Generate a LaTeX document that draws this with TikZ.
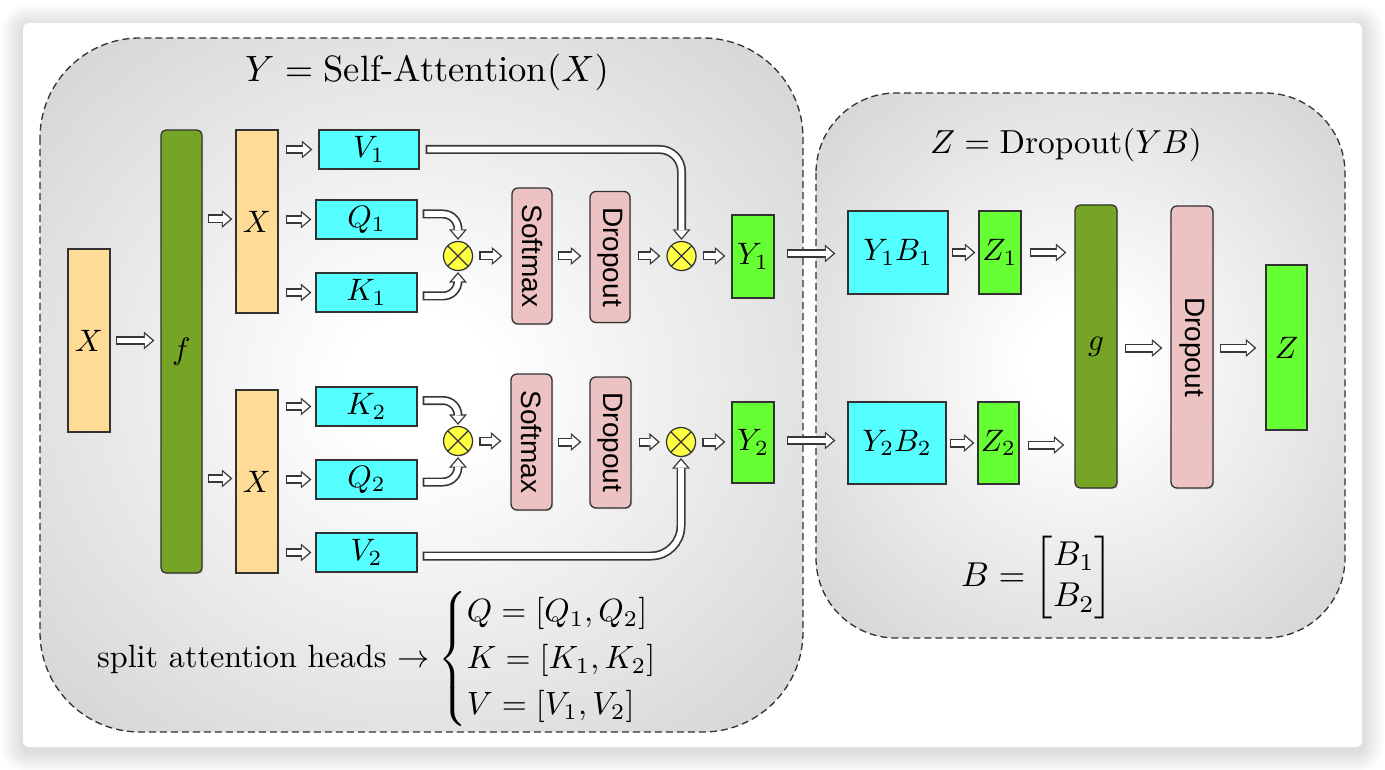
\documentclass[tikz,border=0pt]{standalone}
\usepackage{amsmath}
\usepackage{fontspec}
\newfontfamily\arialf{Liberation Sans}
\usepackage{graphicx}
\usetikzlibrary{arrows.meta,calc,shadows}
\definecolor{xorange}{RGB}{255,220,150}
\definecolor{fgreen}{RGB}{118,165,38}
\definecolor{cyanbox}{RGB}{85,255,255}
\definecolor{ygreen}{RGB}{102,255,51}
\definecolor{pinkbox}{RGB}{236,194,194}
\definecolor{yellowc}{RGB}{255,255,68}
\definecolor{bord}{RGB}{50,50,50}
\definecolor{arrline}{RGB}{55,55,55}
\pgfdeclareradialshading{panelshade}{\pgfpoint{0bp}{0bp}}{color(0bp)=(white); color(5bp)=(white); color(70.7bp)=(gray!75)}
\newcommand\sbx[1]{\scalebox{3.1}{#1}}
\tikzset{
  hs/.store in=\hsv, he/.store in=\hev, hs=6pt, he=6pt,
  hout/.style={arrline, line width=9pt, shorten <=\hsv, shorten >=\hev,
    -{Triangle[length=10.5pt,width=18pt,line width=0pt]}},
  hin/.style={white, line width=5.6pt, shorten <=\hsv+1.6pt, shorten >=\hev+2.1pt,
    -{Triangle[length=7.3pt,width=12.6pt,line width=0pt]}},
  bx/.style={draw=bord, line width=1.3pt, inner sep=0pt,
    drop shadow={shadow xshift=1.2pt,shadow yshift=-1.2pt,opacity=.3}},
  xbox/.style={bx, fill=xorange},
  cbox/.style={bx, fill=cyanbox},
  gbox/.style={bx, fill=ygreen},
  fbox/.style={bx, fill=fgreen, rounded corners=5pt},
  pbox/.style={bx, fill=pinkbox, rounded corners=6pt, font=\fontsize{28}{32}\selectfont\arialf},
  sz/.style 2 args={minimum width=#1pt, minimum height=#2pt},
  mult/.style={circle, draw=bord, line width=1.2pt, fill=yellowc, minimum size=29pt, inner sep=0pt,
    drop shadow={shadow xshift=1pt,shadow yshift=-1pt,opacity=.3},
    path picture={\draw[line width=1.1pt, bord]
      (path picture bounding box.north west) -- (path picture bounding box.south east)
      (path picture bounding box.north east) -- (path picture bounding box.south west);}},
  panel/.style={shading=panelshade, draw=bord, line width=1.3pt, dash pattern=on 7pt off 4pt},
}
\newcommand\harr[2][]{\begin{scope}[#1]\draw[hout] #2;\draw[hin] #2;\end{scope}}
\begin{document}
\begin{tikzpicture}[x=1pt,y=-1pt]
\useasboundingbox (0,0) rectangle (1385,770);
\fill[white] (0,0) rectangle (1385,770);
% card shadow
\foreach \i in {1,...,11}{
  \pgfmathsetmacro\rr{6+2*\i}
  \fill[black, opacity=0.011, rounded corners=\rr pt] ({23-2*\i},{26-2*\i}) rectangle ({1362+2*\i},{751+2*\i});
}
\fill[white, rounded corners=6pt] (23,23) rectangle (1362,747);
% panels
\shadedraw[panel, rounded corners=100pt] (40,38) rectangle (803,732);
\shadedraw[panel, rounded corners=80pt] (816,93) rectangle (1345,638);
% titles
\node[anchor=base, inner sep=0pt] (t1) at (427,82) {\scalebox{3.66}{$Y = \mbox{Self-Attention}(X)$}};
\node[anchor=base, inner sep=0pt] (t2) at (1066,154) {\scalebox{3.33}{$Z = \mbox{Dropout}(YB)$}};
% left nodes
\node[xbox, sz={42}{183}] (Xin) at (89,340.5) {\sbx{$X$}};
\node[fbox, sz={41}{443}] (f) at (181.5,351.5) {\sbx{$f$}};
\node[xbox, sz={42}{183}] (Xa) at (257,221.5) {\sbx{$X$}};
\node[xbox, sz={42}{183}] (Xb) at (257,481.5) {\sbx{$X$}};
\node[cbox, sz={100}{39}] (V1) at (369,149.5) {\sbx{$V_1$}};
\node[cbox, sz={101}{39}] (Q1) at (366.5,219.5) {\sbx{$Q_1$}};
\node[cbox, sz={101}{39}] (K1) at (366.5,292.5) {\sbx{$K_1$}};
\node[cbox, sz={101}{39}] (K2) at (366.5,406.5) {\sbx{$K_2$}};
\node[cbox, sz={101}{39}] (Q2) at (366.5,479.5) {\sbx{$Q_2$}};
\node[cbox, sz={101}{39}] (V2) at (366.5,552.5) {\sbx{$V_2$}};
\node[mult] (m1) at (458,256) {};
\node[mult] (m2) at (681.5,256) {};
\node[mult] (m3) at (458,441) {};
\node[mult] (m4) at (681,442) {};
\node[pbox, sz={40}{136}] (S1) at (532,256) {\rotatebox{-90}{Softmax}};
\node[pbox, sz={40}{131}] (D1) at (610,257) {\rotatebox{-90}{Dropout}};
\node[pbox, sz={41}{136}] (S2) at (531.5,442) {\rotatebox{-90}{Softmax}};
\node[pbox, sz={41}{131}] (D2) at (610.5,442.5) {\rotatebox{-90}{Dropout}};
\node[gbox, sz={42}{83}] (Y1) at (753,256.5) {\sbx{$Y_1$}};
\node[gbox, sz={42}{81}] (Y2) at (753,442.5) {\sbx{$Y_2$}};
% right nodes
\node[cbox, sz={100}{83}] (YB1) at (898,252.5) {\sbx{$Y_1B_1$}};
\node[gbox, sz={42}{83}] (Z1) at (1000,252.5) {\sbx{$Z_1$}};
\node[cbox, sz={98}{82}] (YB2) at (897,443) {\sbx{$Y_2B_2$}};
\node[gbox, sz={41}{82}] (Z2) at (998.5,443) {\sbx{$Z_2$}};
\node[fbox, sz={42}{283}] (g) at (1096,346.5) {\sbx{$g$}};
\node[pbox, sz={42}{282}] (Dr) at (1192,347) {\rotatebox{-90}{Dropout}};
\node[gbox, sz={41}{165}] (Z) at (1286.5,347.5) {\sbx{$Z$}};
% texts
\node[anchor=west, inner sep=0pt] (sp) at (97,659)
  {\scalebox{3.22}{split attention heads $\rightarrow \renewcommand\arraystretch{1.22}\begin{cases} Q=[Q_1,Q_2]\\ K=[K_1,K_2]\\ V=[V_1,V_2]\end{cases}$}};
\node (B) at (1037,578) {\scalebox{3.45}{$B=\begin{bmatrix}B_1\\B_2\end{bmatrix}$}};
% straight arrows
\harr[hs=5pt,he=6pt]{(Xin.east) -- (Xin.east -| f.west)}
\harr[hs=5pt,he=3pt]{($(f.east |- Xa.west)+(0,-2.5)$) -- ($(Xa.west)+(0,-2.5)$)}
\harr[hs=5pt,he=3pt]{($(f.east |- Xb.west)+(0,-3)$) -- ($(Xb.west)+(0,-3)$)}
\harr[hs=7pt,he=6pt]{(Xa.east |- V1.west) -- (V1.west)}
\harr[hs=7pt,he=4pt]{(Xa.east |- Q1.west) -- (Q1.west)}
\harr[hs=7pt,he=4pt]{(Xa.east |- K1.west) -- (K1.west)}
\harr[hs=7pt,he=4pt]{(Xb.east |- K2.west) -- (K2.west)}
\harr[hs=7pt,he=4pt]{(Xb.east |- Q2.west) -- (Q2.west)}
\harr[hs=7pt,he=4pt]{(Xb.east |- V2.west) -- (V2.west)}
\harr[hs=6pt,he=9pt]{(m1.east) -- (m1.east -| S1.west)}
\harr[hs=5pt,he=8pt]{(S1.east) -- (S1.east -| D1.west)}
\harr[hs=7pt,he=6pt]{(D1.east |- m2.west) -- (m2.west)}
\harr[hs=6pt,he=6pt]{(m2.east) -- (m2.east -| Y1.west)}
\harr[hs=6pt,he=9pt]{(m3.east) -- (m3.east -| S2.west)}
\harr[hs=5pt,he=8pt]{(S2.east) -- (S2.east -| D2.west)}
\harr[hs=7pt,he=6pt]{(D2.east |- m4.west) -- (m4.west)}
\harr[hs=6pt,he=6pt]{(m4.east) -- (m4.east -| Y2.west)}
\harr[hs=12pt,he=12pt]{($(Y1.east)+(0,-3)$) -- ($(Y1.east -| YB1.west)+(0,-3)$)}
\harr[hs=12pt,he=12pt]{($(Y2.east)+(0,-2)$) -- ($(Y2.east -| YB2.west)+(0,-2)$)}
\harr[hs=3pt,he=3pt]{(YB1.east) -- (YB1.east -| Z1.west)}
\harr[hs=3pt,he=3pt]{(YB2.east) -- (YB2.east -| Z2.west)}
\harr[hs=8pt,he=8pt]{(Z1.east) -- (Z1.east -| g.west)}
\harr[hs=8pt,he=10pt]{($(Z2.east)+(0,2)$) -- ($(Z2.east -| g.west)+(0,2)$)}
\harr[hs=7pt,he=8pt]{($(g.east)+(0,1.5)$) -- ($(Dr.west)+(0,1)$)}
\harr[hs=6pt,he=9pt]{($(Dr.east)+(0,1)$) -- ($(Z.west)+(0,0.5)$)}
% curved arrows
\harr[hs=5pt,he=1pt,rounded corners=15pt]{($(Q1.east)+(0,-5.5)$) -| (m1.north)}
\harr[hs=5pt,he=1pt,rounded corners=15pt]{($(K1.east)+(0,3.5)$) -| (m1.south)}
\harr[hs=6pt,he=1pt,rounded corners=22pt]{(V1.east) -| (m2.north)}
\harr[hs=5pt,he=1pt,rounded corners=15pt]{($(K2.east)+(0,-6)$) -| (m3.north)}
\harr[hs=5pt,he=1pt,rounded corners=15pt]{($(Q2.east)+(0,2.5)$) -| (m3.south)}
\harr[hs=5pt,he=1pt,rounded corners=30pt]{($(V2.east)+(0,3.5)$) -| (m4.south)}
\end{tikzpicture}
\end{document}
